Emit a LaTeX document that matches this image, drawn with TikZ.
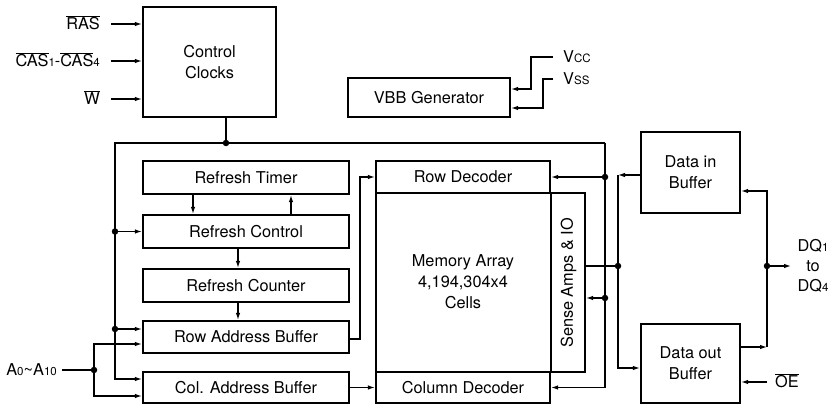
\documentclass[tikz,border=0pt]{standalone}
\usepackage{fontspec}
\setmainfont{TeX Gyre Heros}
\usetikzlibrary{arrows.meta}
\newcommand\ovl[1]{\ensuremath{\overline{\mbox{#1}}}}
\newcommand\sbs[1]{{\fontsize{11.5}{11.5}\selectfont #1}}
\begin{document}
\begin{tikzpicture}[x=1pt,y=-1pt,
  box/.style={draw, line width=2.2pt, inner sep=0pt, align=center, font=\fontsize{16.3}{21}\selectfont},
  lbl/.style={inner sep=0pt, text height=11.5pt, text depth=0pt, font=\fontsize{16.3}{20}\selectfont},
  txt/.style={inner sep=0pt, align=center, font=\fontsize{16.3}{21}\selectfont},
  conn/.style={line width=1.2pt},
  arr/.style={conn, -{Latex[length=7pt,width=4.5pt]}},
  dot/.style={circle, fill, inner sep=0pt, minimum size=6.5pt}]
\useasboundingbox (0,0) rectangle (834,406);

% boxes
\node[box, minimum width=133pt, minimum height=110pt] (cc) at (209.5,62) {Control\\Clocks};
\node[box, minimum width=162pt, minimum height=39pt] (vbb) at (429,97.5) {VBB Generator};
\node[box, minimum width=206pt, minimum height=33pt] (rt) at (246,177.5) {Refresh Timer};
\node[box, minimum width=206pt, minimum height=33pt] (rc) at (246,231.5) {Refresh Control};
\node[box, minimum width=206pt, minimum height=33pt] (rcount) at (246,285.5) {Refresh Counter};
\node[box, minimum width=206pt, minimum height=32pt] (rab) at (246,337) {Row Address Buffer};
\node[box, minimum width=206pt, minimum height=31pt] (cab) at (246,387.5) {Col. Address Buffer};
\node[box, minimum width=209pt, minimum height=179pt] (ma) at (480.5,282.5) {};
\node[box, minimum width=174pt, minimum height=32pt] (rd) at (463,177) {Row Decoder};
\node[box, minimum width=174pt, minimum height=31pt] (cd) at (463,387.5) {Column Decoder};
\draw[line width=2.2pt] (ma.north -| rd.east) -- (ma.south -| rd.east);
\node[txt] (mat) at (463,282) {Memory Array\\4,194,304x4\\Cells};
\node[lbl, rotate=90] (sa) at (567,283) {Sense Amps \& IO};
\node[box, minimum width=99pt, minimum height=81pt] (dib) at (690.5,172.5) {Data in\\Buffer};
\node[box, minimum width=99pt, minimum height=79pt] (dob) at (690.5,363.5) {Data out\\Buffer};

% control inputs
\node[lbl, anchor=east] (ras) at (100,24) {\ovl{RAS}};
\node[lbl, anchor=east] (cas) at (100,61) {\ovl{CAS}\sbs{1}-\ovl{CAS}\sbs{4}};
\node[lbl, anchor=east] (w) at (100,99) {\ovl{W}};
\draw[arr] ([xshift=11pt]ras.east) -- (ras.east -| cc.west);
\draw[arr] ([xshift=11pt]cas.east) -- (cas.east -| cc.west);
\draw[arr] ([xshift=11pt]w.east) -- (w.east -| cc.west);

% VBB supplies
\node[lbl, anchor=west] (vcc) at (563,57) {V\sbs{CC}};
\node[lbl, anchor=west] (vss) at (563,79) {V\sbs{SS}};
\draw[arr] ([xshift=-10pt]vcc.west) -- (531,57) -- (531,89) -- (vbb.east |- 0,89);
\draw[arr] ([xshift=-10pt]vss.west) -- (543,79) -- (543,108) -- (vbb.east |- 0,108);

% control bus
\coordinate (bt) at (226,143);
\coordinate (bl) at (115,143);
\coordinate (br) at (605,143);
\coordinate (cabin) at (115,379);
\coordinate (rabin) at (115,329);
\coordinate (sin) at (605,298);
\draw[conn] (cc.south -| bt) -- (bt);
\draw[arr] (br) -- (bl) -- (cabin) -- (cabin -| cab.west);
\draw[arr] (br) -- (br |- cd.east) -- (cd.east);
\draw[arr] (bl |- rc.west) -- (rc.west);
\draw[arr] (rabin) -- (rabin -| rab.west);
\draw[arr] (br |- rd.east) -- (rd.east);
\draw[arr] (sin) -- (sin -| ma.east);
\node[dot] (d1) at (bt) {};
\node[dot] (d2) at (bl |- rc.west) {};
\node[dot] (d3) at (rabin) {};
\node[dot] (d4) at (br |- rd.east) {};
\node[dot] (d5) at (sin) {};

% address inputs
\node[lbl, anchor=east] (addr) at (57,370) {A\sbs{0}\textasciitilde A\sbs{10}};
\coordinate (aj) at (94,370);
\draw[conn] ([xshift=5pt]addr.east) -- (aj);
\draw[arr] (aj) -- (94,344) -- (rab.west |- 0,344);
\draw[arr] (aj) -- (94,396) -- (cab.west |- 0,396);
\node[dot] (d6) at (aj) {};

% refresh chain
\draw[arr] (rt.south -| 193,0) -- (rc.north -| 193,0);
\draw[arr] (rc.north -| 291,0) -- (rt.south -| 291,0);
\draw[arr] (rc.south -| 238,0) -- (rcount.north -| 238,0);
\draw[arr] (rcount.south -| 238,0) -- (rab.north -| 238,0);

% address to decoders
\draw[arr] (rab.east |- 0,339) -- (360,339) -- (360,177) -- (rd.west);
\draw[arr] (cab.east) -- (cd.west);

% data path
\coordinate (so) at (618,266);
\draw[conn] (ma.east |- so) -- (so);
\draw[arr] (dib.west |- 0,175) -- (618,175);
\draw[arr] (618,175) -- (618,368) -- (dob.west |- 0,368);
\node[dot] (d7) at (so) {};

\coordinate (dq) at (767,266);
\draw[arr] (dob.east |- 0,347) -- (767,347);
\draw[arr] (767,347) -- (767,191) -- (dib.east |- 0,191);
\draw[arr] (dq) -- (791,266);
\node[dot] (d8) at (dq) {};
\node[txt, font=\fontsize{16.3}{20}\selectfont] (dqlbl) at (813,266) {DQ\sbs{1}\\to\\DQ\sbs{4}};

\node[lbl] (oe) at (787,382) {\ovl{OE}};
\coordinate (oein) at (767,382);
\draw[arr] (oein) -- (oein -| dob.east);
\end{tikzpicture}
\end{document}
